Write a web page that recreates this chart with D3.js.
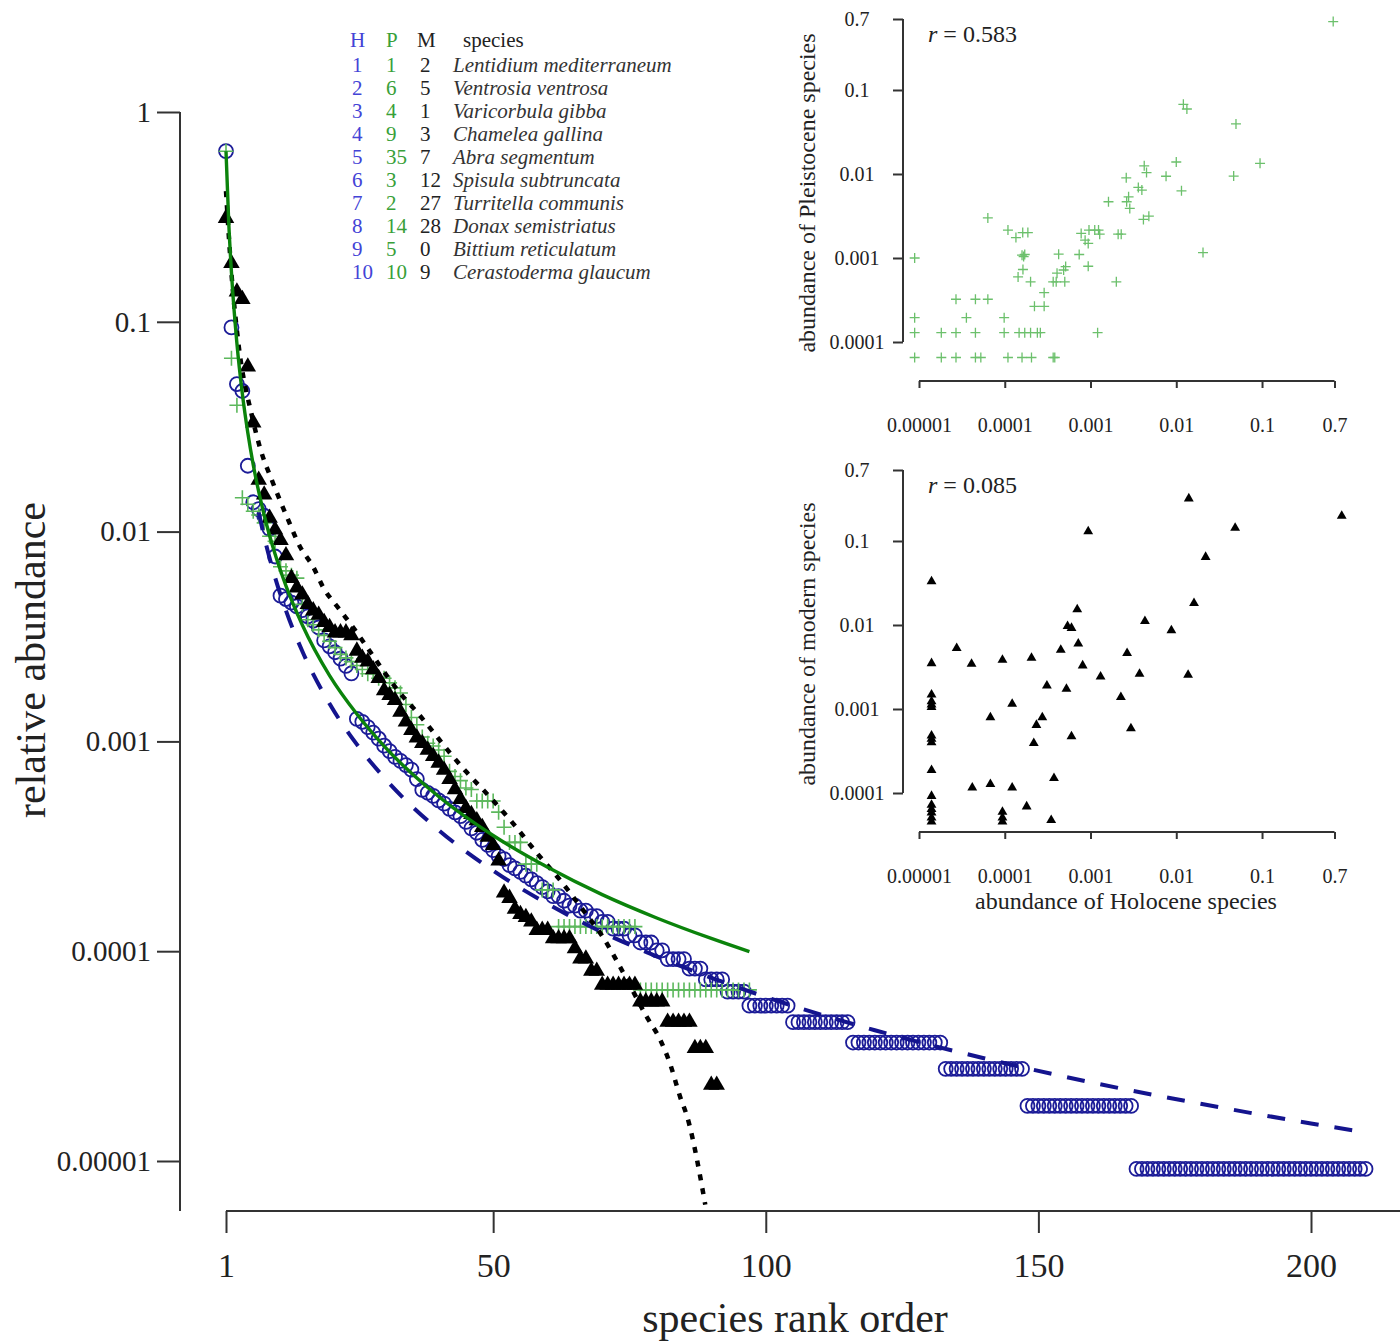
<!DOCTYPE html>
<html><head><meta charset="utf-8">
<script src="https://cdn.jsdelivr.net/npm/d3@7"></script>
<style>
body{margin:0;background:#fff}
svg{display:block}
text{font-family:"Liberation Serif","Times New Roman",serif}
</style>
</head><body>
<svg id="chart" width="1400" height="1344"></svg>
<script>
// ---------------- DATA ----------------
// relative abundance by rank (main rank-abundance plot)
const holocene = [
0.651,0.094,0.0505,0.0468,0.0206,0.0138,0.0128,0.0119,0.0103,0.00761,
0.00495,0.00477,0.00459,0.0044,0.00422,0.00394,0.00376,0.00349,0.00303,0.00284,
0.00266,0.00248,0.00229,0.00211,0.00128,0.00124,0.00117,0.0011,0.00103,0.000954,
0.000899,0.000844,0.000807,0.000771,0.000734,0.000661,0.000587,0.000569,0.00055,0.000523,
0.000505,0.000477,0.000459,0.00044,0.000413,0.000385,0.000367,0.000339,0.000321,0.000303,
0.000284,0.000275,0.000257,0.000248,0.000239,0.000229,0.00022,0.000211,0.000202,0.000193,
0.000183,0.000183,0.000174,0.000165,0.000165,0.000156,0.000156,0.000147,0.000147,0.000138,
0.000138,0.000128,0.000128,0.000128,0.000119,0.000119,0.00011,0.00011,0.00011,0.000101,
0.000101,9.17e-5,9.17e-5,9.17e-5,9.17e-5,8.26e-5,8.26e-5,8.26e-5,7.34e-5,7.34e-5,
7.34e-5,7.34e-5,6.42e-5,6.42e-5,6.42e-5,6.42e-5,5.5e-5,5.5e-5,5.5e-5,5.5e-5,
5.5e-5,5.5e-5,5.5e-5,5.5e-5,4.59e-5,4.59e-5,4.59e-5,4.59e-5,4.59e-5,4.59e-5,
4.59e-5,4.59e-5,4.59e-5,4.59e-5,4.59e-5,3.67e-5,3.67e-5,3.67e-5,3.67e-5,3.67e-5,
3.67e-5,3.67e-5,3.67e-5,3.67e-5,3.67e-5,3.67e-5,3.67e-5,3.67e-5,3.67e-5,3.67e-5,
3.67e-5,3.67e-5,2.75e-5,2.75e-5,2.75e-5,2.75e-5,2.75e-5,2.75e-5,2.75e-5,2.75e-5,
2.75e-5,2.75e-5,2.75e-5,2.75e-5,2.75e-5,2.75e-5,2.75e-5,1.83e-5,1.83e-5,1.83e-5,
1.83e-5,1.83e-5,1.83e-5,1.83e-5,1.83e-5,1.83e-5,1.83e-5,1.83e-5,1.83e-5,1.83e-5,
1.83e-5,1.83e-5,1.83e-5,1.83e-5,1.83e-5,1.83e-5,1.83e-5,9.17e-6,9.17e-6,9.17e-6,
9.17e-6,9.17e-6,9.17e-6,9.17e-6,9.17e-6,9.17e-6,9.17e-6,9.17e-6,9.17e-6,9.17e-6,
9.17e-6,9.17e-6,9.17e-6,9.17e-6,9.17e-6,9.17e-6,9.17e-6,9.17e-6,9.17e-6,9.17e-6,
9.17e-6,9.17e-6,9.17e-6,9.17e-6,9.17e-6,9.17e-6,9.17e-6,9.17e-6,9.17e-6,9.17e-6,
9.17e-6,9.17e-6,9.17e-6,9.17e-6,9.17e-6,9.17e-6,9.17e-6,9.17e-6,9.17e-6,9.17e-6
];
const pleistocene = [
0.65,0.067,0.04,0.0145,0.0135,0.0125,0.012,0.011,0.0095,0.009,
0.0068,0.0065,0.0062,0.006,0.0045,0.0038,0.0036,0.0034,0.0032,0.003,
0.0028,0.0026,0.0025,0.0024,0.0023,0.0022,0.0021,0.0021,0.002,0.002,
0.0019,0.0018,0.0017,0.0015,0.0013,0.0012,0.00105,0.00098,0.00095,0.00091,
0.00085,0.00072,0.00068,0.00065,0.0006,0.00059,0.00052,0.00052,0.00052,0.00052,
0.00046,0.00039,0.00033,0.00033,0.00033,0.00026,0.00026,0.00026,0.000196,0.000196,
0.000196,0.000131,0.000131,0.000131,0.000131,0.000131,0.000131,0.000131,0.000131,0.000131,
0.000131,0.000131,0.000131,0.000131,0.000131,0.000131,6.54e-5,6.54e-5,6.54e-5,6.54e-5,
6.54e-5,6.54e-5,6.54e-5,6.54e-5,6.54e-5,6.54e-5,6.54e-5,6.54e-5,6.54e-5,6.54e-5,
6.54e-5,6.54e-5,6.54e-5,6.54e-5,6.54e-5,6.54e-5,6.54e-5
];
const modern = [
0.312,0.19,0.139,0.128,0.061,0.033,0.0176,0.015,0.0116,0.0102,
0.0091,0.0077,0.006,0.0054,0.005,0.0045,0.0042,0.004,0.0037,0.0035,
0.0033,0.0033,0.0033,0.0032,0.0027,0.0025,0.0024,0.0022,0.002,0.00175,
0.00166,0.00157,0.00138,0.00124,0.00113,0.00104,0.00098,0.00091,0.00085,0.00079,
0.00073,0.00066,0.00059,0.00053,0.00048,0.00045,0.00042,0.00039,0.00035,0.00032,
0.00027,0.00019,0.000179,0.000159,0.00015,0.000145,0.000138,0.000126,0.000126,0.000126,
0.000115,0.000115,0.000115,0.000115,0.000103,0.000092,0.000092,8.05e-5,8.05e-5,6.9e-5,
6.9e-5,6.9e-5,6.9e-5,6.9e-5,6.9e-5,6.9e-5,5.75e-5,5.75e-5,5.75e-5,5.75e-5,
5.75e-5,4.6e-5,4.6e-5,4.6e-5,4.6e-5,4.6e-5,3.45e-5,3.45e-5,3.45e-5,2.3e-5,
2.3e-5
];

// fitted model curves (rank, value)
const fitPleistoceneRank  = [1,1.5,2,3,4,5,6,8,10,12,15,20,25,30,40,50,60,70,80,90,97];
const fitPleistoceneValue = [0.65,0.298,0.172,0.0789,0.0454,0.0296,0.0208,0.012,0.00781,0.00551,0.00359,0.00206,0.00135,0.000949,0.000546,0.000356,0.000251,0.000186,0.000144,0.000115,0.0000995];
const fitHoloceneRank  = [7,8,10,12,15,20,25,30,40,50,60,70,80,100,120,140,160,180,200,210];
const fitHoloceneValue = [0.01235,0.00945,0.00605,0.0042,0.00269,0.00151,0.000968,0.000672,0.000378,0.000242,0.000168,0.000123,0.0000945,0.0000605,0.000042,0.0000309,0.0000236,0.0000187,0.0000151,0.0000137];
const fitModernRank  = [1,2,3.2,5.8,7.2,9.6,12.2,14.6,17,18.8,21.9,23.7,33.5,36,38.4,42.1,45.2,49.4,53.6,58,62.3,66.5,70.1,73.3,78.2,80.6,82.4,84.3,85.6,88.9];
const fitModernValue = [0.42,0.17,0.082,0.0352,0.0253,0.0171,0.0117,0.00845,0.00678,0.00544,0.00423,0.00367,0.00163,0.00138,0.00116,0.00088,0.00071,0.000543,0.000408,0.000294,0.000218,0.000157,0.000117,0.000084,0.0000485,0.000038,0.0000293,0.0000202,0.0000162,0.0000062];

// main axis ticks
const xTickValues = [1,50,100,150,200];
const yTickValues = [1,0.1,0.01,0.001,0.0001,0.00001];
const yTickLabels = ["1","0.1","0.01","0.001","0.0001","0.00001"];

// legend table
const legendH = ["1","2","3","4","5","6","7","8","9","10"];
const legendP = ["1","6","4","9","35","3","2","14","5","10"];
const legendM = ["2","5","1","3","7","12","27","28","0","9"];
const legendSpecies = ["Lentidium mediterraneum","Ventrosia ventrosa","Varicorbula gibba","Chamelea gallina","Abra segmentum","Spisula subtruncata","Turritella communis","Donax semistriatus","Bittium reticulatum","Cerastoderma glaucum"];

// inset 1: Holocene vs Pleistocene abundance
const insetP_holocene = [
0.676,0.0121,0.0133,0.0497,0.0948,0.0467,0.01,0.0076,0.0115,0.00423,
0.0045,0.00261,0.00361,0.00397,0.00162,0.00264,0.00278,0.00287,0.00414,0.00479,
0.0205,0.000778,0.00096,0.00112,0.00124,0.000865,0.00094,0.00128,0.0021,0.00228,
0.000738,0.00094,0.002,0.00121,0.000425,0.000513,0.000486,0.000407,0.000398,0.000501,
0.000367,0.000288,0.000222,0.000288,0.000159,0.000166,0.000171,0.000163,0.000143,0.0002,
0.000109,0.000135,0.000162,0.000186,0.0000635,0.0000089,0.000027,0.0000455,0.0000635,0.0000089,
0.0000357,0.0000984,0.0000089,0.0000182,0.000027,0.0000455,0.0000984,0.000147,0.000171,0.0002,
0.00024,0.00026,0.0000089,0.0000182,0.000027,0.0000455,0.0000526,0.000109,0.000159,0.000205,
0.000367,0.000383];
const insetP_pleistocene = [
0.652,0.0675,0.0594,0.0394,0.0134,0.00944,0.0139,0.0094,0.0063,0.0125,
0.0104,0.009,0.00692,0.00644,0.00467,0.00467,0.00535,0.00389,0.00288,0.00315,
0.00116,0.00196,0.00215,0.00215,0.00215,0.00163,0.00149,0.00192,0.00192,0.00192,
0.0011,0.000798,0.00052,0.000129,0.00111,0.00079,0.00072,0.00066,0.00052,0.00052,
0.00052,0.000387,0.000266,0.000266,0.00108,0.00104,0.0011,0.00073,0.000596,0.00052,
0.00215,0.00175,0.00201,0.00201,0.003,0.001,0.000323,0.000323,0.000323,0.000195,
0.000195,0.000195,0.000129,0.000129,0.000129,0.000129,0.000129,0.000129,0.000129,0.000129,
0.000129,0.000129,0.0000654,0.0000654,0.0000654,0.0000654,0.0000654,0.0000654,0.0000654,0.0000654,
0.0000654,0.0000654];

// inset 2: Holocene vs modern abundance
const insetM_holocene = [
0.014,0.85,0.00094,0.0486,0.022,0.000014,0.0161,0.0007,0.00431,0.00054,
0.0006,0.00877,0.00072,0.00045,0.00267,0.0000275,0.000094,0.000205,0.000041,0.000014,
0.00081,0.00131,0.00373,0.01374,0.00031,0.000524,0.00226,0.000122,0.000068,0.000274,
0.000234,0.00296,0.0006,0.000218,0.000375,0.0000418,0.000068,0.000122,0.00018,0.000094,
0.000094,0.000094,0.000348,0.000014,0.000014,0.000014,0.000014,0.000014,0.000014,0.000014,
0.000014,0.000014,0.000014,0.000014,0.000014,0.000014,0.000014];
const insetM_modern = [
0.32,0.199,0.13,0.143,0.0644,0.033,0.0182,0.0153,0.0111,0.0097,
0.0092,0.0086,0.006,0.00506,0.00461,0.0053,0.00384,0.00406,0.00344,0.0035,
0.00329,0.00243,0.00262,0.00255,0.0019,0.00173,0.00138,0.00115,0.000796,0.000796,
0.000644,0.000588,0.000472,0.000393,0.00015,0.000116,0.000127,0.000116,0.000069,0.0000596,
0.000051,0.0000457,0.0000474,0.00148,0.00123,0.00113,0.00105,0.00048,0.000439,0.0004,
0.000187,0.000092,0.000072,0.000064,0.0000585,0.000051,0.0000457];

const insetXTicks = [0.00001,0.0001,0.001,0.01,0.1,0.7];
const insetXLabels = ["0.00001","0.0001","0.001","0.01","0.1","0.7"];
const insetYTicks = [0.7,0.1,0.01,0.001,0.0001];
const insetYLabels = ["0.7","0.1","0.01","0.001","0.0001"];

// ---------------- STYLE ----------------
const FONT = '"Liberation Serif","Times New Roman",serif';
const AXIS = "#333";
const TXT = "#222";
const C_BLUE_MARK = "#1c1c98";
const C_BLUE_LINE = "#14148e";
const C_BLUE_TXT = "#4343d6";
const C_GREEN_MARK = "#5cb85c";
const C_GREEN_LINE = "#0b830b";
const C_GREEN_TXT = "#38a038";

const svg = d3.select("#chart");

// ---------------- MAIN CHART ----------------
const x = d3.scaleLinear().domain([1,200]).range([226,1311]);
const y = d3.scaleLog().domain([1,1e-5]).range([112,1161]);
const yAxisX = 180, xAxisY = 1211;

// y axis
const gy = svg.append("g").attr("transform",`translate(${yAxisX},0)`)
  .call(d3.axisLeft(y).tickValues(yTickValues).tickFormat((d,i)=>yTickLabels[i]).tickSize(23).tickPadding(6));
gy.attr("font-family",FONT).attr("font-size",29);
gy.select(".domain").remove();
gy.append("line").attr("x1",0).attr("x2",0).attr("y1",y(1)).attr("y2",xAxisY);
gy.selectAll("line").attr("stroke",AXIS).attr("stroke-width",2);
gy.selectAll("text").attr("fill",TXT);

// x axis
const gx = svg.append("g").attr("transform",`translate(0,${xAxisY})`)
  .call(d3.axisBottom(x).tickValues(xTickValues).tickFormat(d3.format("d")).tickSize(22).tickPadding(20));
gx.attr("font-family",FONT).attr("font-size",34);
gx.select(".domain").remove();
gx.append("line").attr("x1",x(1)).attr("x2",1400).attr("y1",0).attr("y2",0);
gx.selectAll("line").attr("stroke",AXIS).attr("stroke-width",2);
gx.selectAll("text").attr("fill",TXT);

// axis titles
svg.append("text").attr("x",795).attr("y",1332).attr("text-anchor","middle")
  .attr("font-size",42).attr("fill",TXT).text("species rank order");
svg.append("text").attr("transform","translate(45,660) rotate(-90)").attr("text-anchor","middle")
  .attr("font-size",42).attr("fill",TXT).text("relative abundance");

// markers
const plusPath = s => `M${-s},0H${s}M0,${-s}V${s}`;
svg.append("g").selectAll("circle").data(holocene).join("circle")
  .attr("cx",(d,i)=>x(i+1)).attr("cy",d=>y(d)).attr("r",7)
  .attr("fill","none").attr("stroke",C_BLUE_MARK).attr("stroke-width",1.8);
svg.append("g").selectAll("path").data(pleistocene).join("path")
  .attr("transform",(d,i)=>`translate(${x(i+1)},${y(d)})`).attr("d",plusPath(7.5))
  .attr("stroke",C_GREEN_MARK).attr("stroke-width",1.6).attr("fill","none");
const triMain = d3.symbol(d3.symbolTriangle, 118);
svg.append("g").selectAll("path").data(modern).join("path")
  .attr("transform",(d,i)=>`translate(${x(i+1)},${y(d)})`).attr("d",triMain).attr("fill","#000");

// fit lines
const fitLine = d3.line().x(d=>x(d[0])).y(d=>y(d[1])).curve(d3.curveMonotoneX);
svg.append("path").datum(d3.zip(fitHoloceneRank,fitHoloceneValue)).attr("d",fitLine)
  .attr("fill","none").attr("stroke",C_BLUE_LINE).attr("stroke-width",4).attr("stroke-dasharray","18,16");
svg.append("path").datum(d3.zip(fitModernRank,fitModernValue)).attr("d",fitLine)
  .attr("fill","none").attr("stroke","#000").attr("stroke-width",4.5).attr("stroke-dasharray","6,8");
svg.append("path").datum(d3.zip(fitPleistoceneRank,fitPleistoceneValue)).attr("d",fitLine)
  .attr("fill","none").attr("stroke",C_GREEN_LINE).attr("stroke-width",3.4);

// legend table
const lg = svg.append("g").attr("font-size",21);
const colH = 352, colP = 386, colM = 420, colS = 453;
const headY = 47, row0 = 72, rowStep = 23;
lg.append("text").attr("x",colH-2).attr("y",headY).attr("fill",C_BLUE_TXT).text("H");
lg.append("text").attr("x",colP).attr("y",headY).attr("fill",C_GREEN_TXT).text("P");
lg.append("text").attr("x",colM-3).attr("y",headY).attr("fill",TXT).text("M");
lg.append("text").attr("x",colS+10).attr("y",headY).attr("fill",TXT).text("species");
legendH.forEach((h,i)=>{
  const yy = row0 + i*rowStep;
  lg.append("text").attr("x",colH).attr("y",yy).attr("fill",C_BLUE_TXT).text(h);
  lg.append("text").attr("x",colP).attr("y",yy).attr("fill",C_GREEN_TXT).text(legendP[i]);
  lg.append("text").attr("x",colM).attr("y",yy).attr("fill",TXT).text(legendM[i]);
  lg.append("text").attr("x",colS).attr("y",yy).attr("fill","#333").attr("font-style","italic").text(legendSpecies[i]);
});

// ---------------- INSETS ----------------
const xI = d3.scaleLog().domain([1e-5,0.7]).range([919,1334.5]);
function inset(top, xs, ys, kind, rLabel, yTitle, xTitle){
  const yI = d3.scaleLog().domain([0.7,1e-4]).range([top, top+323]);
  const xAxisPos = top + 362;
  const g = svg.append("g");
  const ga = g.append("g").attr("transform","translate(903,0)")
    .call(d3.axisLeft(yI).tickValues(insetYTicks).tickFormat((d,i)=>insetYLabels[i]).tickSize(10));
  ga.attr("font-family",FONT).attr("font-size",20);
  ga.select(".domain").remove();
  ga.append("line").attr("x1",0).attr("x2",0).attr("y1",yI(0.7)).attr("y2",yI(1e-4));
  ga.selectAll("line").attr("stroke",AXIS).attr("stroke-width",2);
  ga.selectAll("text").attr("fill",TXT).attr("text-anchor","middle").attr("x",-46);
  const gb = g.append("g").attr("transform",`translate(0,${xAxisPos})`)
    .call(d3.axisBottom(xI).tickValues(insetXTicks).tickFormat((d,i)=>insetXLabels[i]).tickSize(7).tickPadding(30));
  gb.attr("font-family",FONT).attr("font-size",20);
  gb.select(".domain").remove();
  gb.append("line").attr("x1",xI(1e-5)).attr("x2",xI(0.7)).attr("y1",0).attr("y2",0);
  gb.selectAll("line").attr("stroke",AXIS).attr("stroke-width",2);
  gb.selectAll("text").attr("fill",TXT);
  // r label
  const rt = g.append("text").attr("x",928).attr("y",top+23).attr("font-size",24).attr("fill",TXT);
  rt.append("tspan").attr("font-style","italic").text("r");
  rt.append("tspan").text(" = " + rLabel);
  // y title
  g.append("text").attr("transform",`translate(815,${top+174}) rotate(-90)`).attr("text-anchor","middle")
    .attr("font-size",24).attr("fill",TXT).text(yTitle);
  if (xTitle) g.append("text").attr("x",1126).attr("y",xAxisPos+77).attr("text-anchor","middle")
    .attr("font-size",24).attr("fill",TXT).text(xTitle);
  const pts = d3.zip(xs, ys);
  if (kind === "plus") {
    g.append("g").selectAll("path").data(pts).join("path")
      .attr("transform",d=>`translate(${xI(d[0])},${yI(d[1])})`).attr("d",plusPath(5))
      .attr("stroke","#6cc06c").attr("stroke-width",1.3).attr("fill","none");
  } else {
    const tri = d3.symbol(d3.symbolTriangle, 42);
    g.append("g").selectAll("path").data(pts).join("path")
      .attr("transform",d=>`translate(${xI(d[0])},${yI(d[1])})`).attr("d",tri).attr("fill","#000");
  }
}
inset(19, insetP_holocene, insetP_pleistocene, "plus", "0.583", "abundance of Pleistocene species", null);
inset(470, insetM_holocene, insetM_modern, "tri", "0.085", "abundance of modern species", "abundance of Holocene species");
</script>
</body></html>
